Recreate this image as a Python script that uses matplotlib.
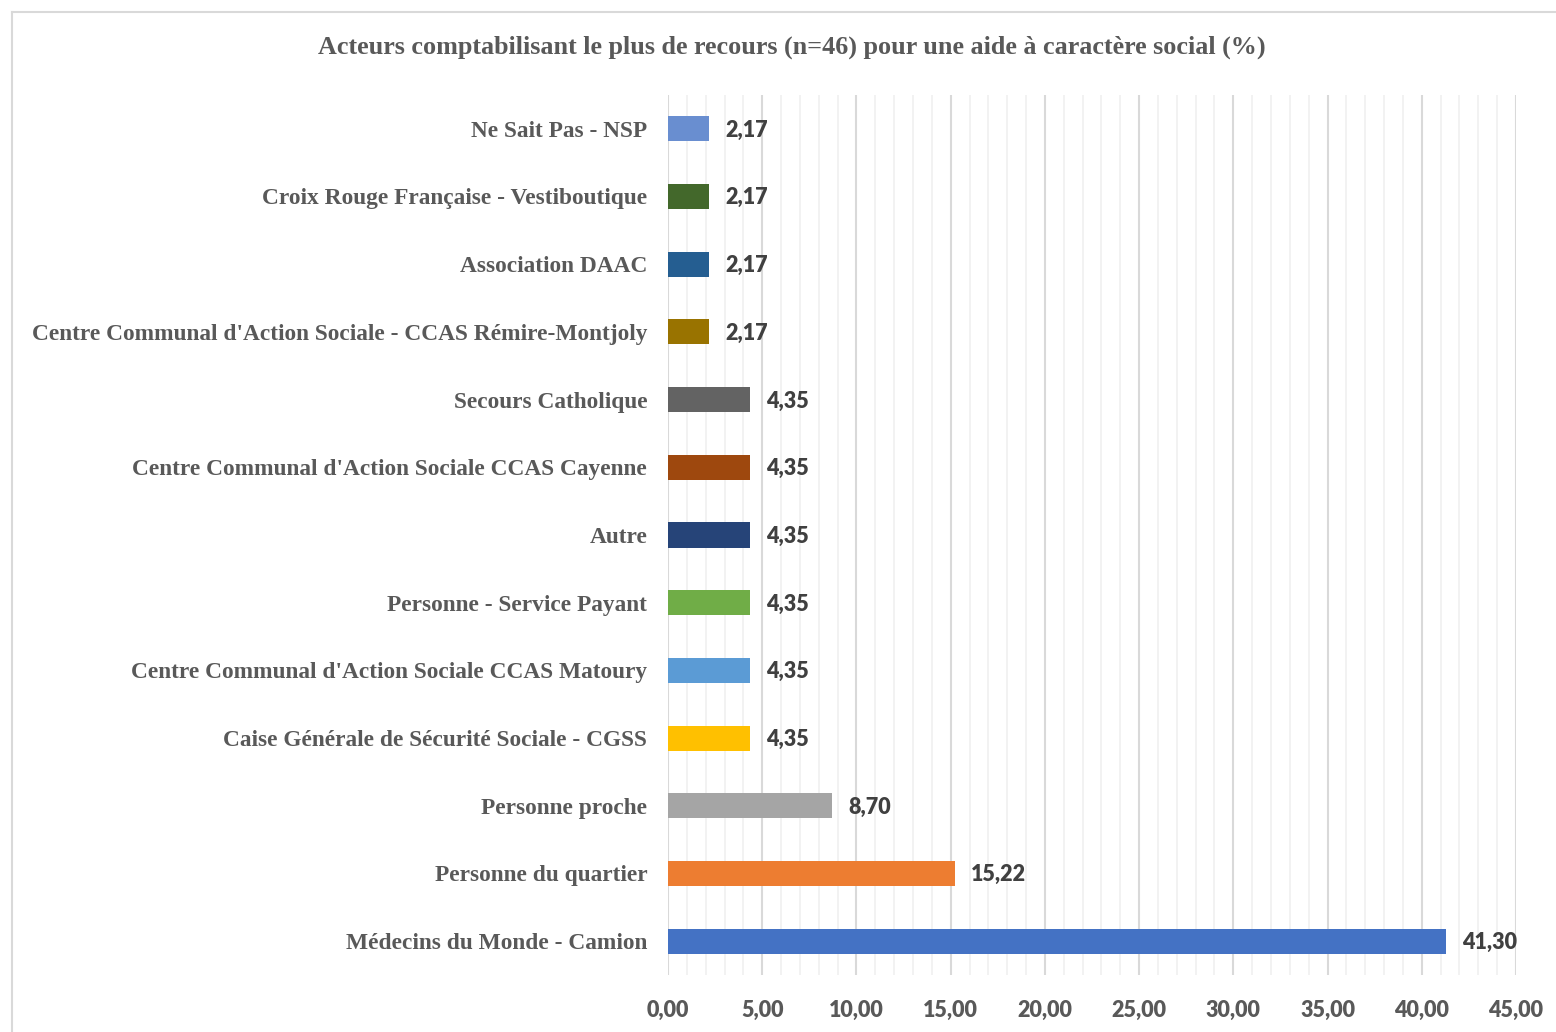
import matplotlib.pyplot as plt
from matplotlib.ticker import MultipleLocator, FuncFormatter
from matplotlib.lines import Line2D

# donnees (de bas en haut)
acteurs = ["Médecins du Monde - Camion", "Personne du quartier", "Personne proche",
           "Caise Générale de Sécurité Sociale - CGSS",
           "Centre Communal d'Action Sociale CCAS Matoury",
           "Personne - Service Payant", "Autre",
           "Centre Communal d'Action Sociale CCAS Cayenne",
           "Secours Catholique",
           "Centre Communal d'Action Sociale - CCAS Rémire-Montjoly",
           "Association DAAC", "Croix Rouge Française - Vestiboutique",
           "Ne Sait Pas - NSP"]
pourcent = [41.30, 15.22, 8.70, 4.35, 4.35, 4.35, 4.35, 4.35, 4.35, 2.17, 2.17, 2.17, 2.17]
couleurs = ["#4472C4", "#ED7D31", "#A5A5A5", "#FFC000", "#5B9BD5", "#70AD47",
            "#264478", "#9E480E", "#636363", "#997300", "#255E91", "#43682B", "#698ED0"]

serif = "Liberation Serif"
sans = "Lato"

fig = plt.figure(figsize=(15.56, 10.32), dpi=100)
ax = fig.add_axes([0.4293, 0.0552, 0.545, 0.8528])

pos = list(range(len(acteurs)))
ax.barh(pos, pourcent, height=0.37, color=couleurs, zorder=3)

for y, v in zip(pos, pourcent):
    ax.text(v + 0.85, y - 0.02, f"{v:.2f}".replace(".", ","), va="center", ha="left",
            fontsize=15.5, fontweight="heavy", color="#404040", family=sans, zorder=4)

ax.set_xlim(0, 45)
ax.set_ylim(-0.5, len(acteurs) - 0.5)
ax.set_yticks(pos)
ax.set_yticklabels(acteurs, fontsize=16.8, fontweight="bold", color="#595959", family=serif)
ax.xaxis.set_major_locator(MultipleLocator(5))
ax.xaxis.set_minor_locator(MultipleLocator(1))
ax.xaxis.set_major_formatter(FuncFormatter(lambda x, p: f"{x:.2f}".replace(".", ",")))
for lab in ax.get_xticklabels():
    lab.set_fontsize(15.5)
    lab.set_fontweight("heavy")
    lab.set_color("#595959")
    lab.set_family(sans)
ax.tick_params(axis="both", which="both", length=0)
ax.tick_params(axis="y", pad=15)
ax.tick_params(axis="x", pad=18)
ax.grid(axis="x", which="major", color="#D9D9D9", linewidth=1.5, zorder=0)
ax.grid(axis="x", which="minor", color="#F0F0F0", linewidth=1.2, zorder=0)
for s in ax.spines.values():
    s.set_visible(False)

fig.text(0.5087, 0.954, "Acteurs comptabilisant le plus de recours (n=46) pour une aide à caractère social (%)",
         ha="center", va="center", fontsize=18.8, fontweight="bold", color="#595959", family=serif)

# cadre du graphique
fig.add_artist(Line2D([0.0077, 1], [0.988, 0.988], color="#D9D9D9", lw=1.5, transform=fig.transFigure))
fig.add_artist(Line2D([0.0077, 0.0077], [0, 0.988], color="#D9D9D9", lw=1.5, transform=fig.transFigure))

fig.savefig("out.png", dpi=100)
